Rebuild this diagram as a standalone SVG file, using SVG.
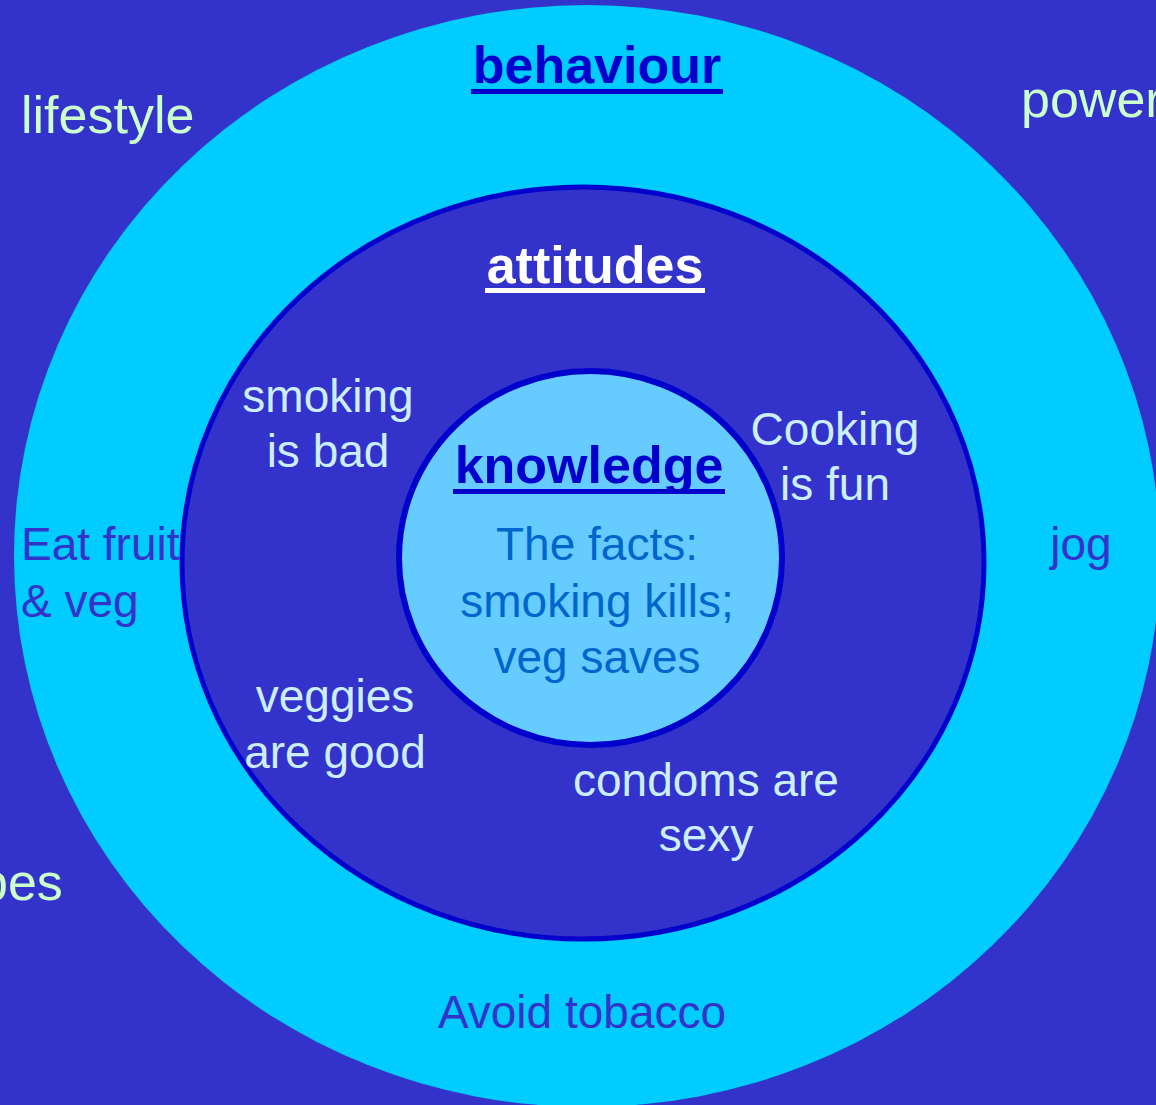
<svg xmlns="http://www.w3.org/2000/svg" width="1156" height="1105" viewBox="0 0 1156 1105">
<style>
.t{font-family:"Liberation Sans",Arial,sans-serif;font-size:46px;text-anchor:middle}
.s{text-anchor:start}
.big{font-size:52px}
.h{font-family:"Liberation Sans",Arial,sans-serif;font-size:52px;font-weight:bold;text-anchor:middle}
.light{fill:#CCEEFF}
.green{fill:#CCFFCC}
.purple{fill:#3333CC}
</style>
<rect x="0" y="0" width="1156" height="1105" fill="#3333CC"/>
<g id="outer-behaviour">
<ellipse cx="587" cy="556" rx="573" ry="551" fill="#00CCFF"/>
<text class="h" x="597" y="83" fill="#0000CC">behaviour</text>
<rect x="471" y="89" width="252" height="5" fill="#0000CC"/>
<text class="t s purple" x="21" y="560">Eat fruit</text>
<text class="t s purple" x="21" y="617">&amp; veg</text>
<text class="t purple" x="1081" y="560">jog</text>
<text class="t purple" x="582" y="1028">Avoid tobacco</text>
</g>
<g id="middle-attitudes">
<ellipse cx="583" cy="563" rx="401" ry="376" fill="#3333CC" stroke="#0000CC" stroke-width="5"/>
<text class="h" x="595" y="283" fill="#FFFFFF">attitudes</text>
<rect x="485" y="288" width="220" height="5" fill="#FFFFFF"/>
<text class="t light" x="328" y="412">smoking</text>
<text class="t light" x="328" y="467">is bad</text>
<text class="t light" x="835" y="445">Cooking</text>
<text class="t light" x="835" y="500">is fun</text>
<text class="t light" x="335" y="712">veggies</text>
<text class="t light" x="335" y="768">are good</text>
<text class="t light" x="706" y="796">condoms are</text>
<text class="t light" x="706" y="851">sexy</text>
</g>
<g id="inner-knowledge">
<ellipse cx="590.5" cy="558" rx="191.5" ry="187" fill="#66CCFF" stroke="#0000CC" stroke-width="6"/>
<text class="h" x="589" y="483" fill="#0000CC">knowledge</text>
<rect x="453" y="489" width="272" height="5" fill="#0000CC"/>
<text class="t" x="597" y="560" fill="#0066CC">The facts:</text>
<text class="t" x="597" y="617" fill="#0066CC">smoking kills;</text>
<text class="t" x="597" y="673" fill="#0066CC">veg saves</text>
</g>
<g id="outside-labels">
<text class="t s big green" x="21" y="133">lifestyle</text>
<text class="t s big green" x="1021" y="117">power</text>
<text class="t s big green" x="-21" y="900">pes</text>
</g>
<g id="connectors"/>
</svg>
